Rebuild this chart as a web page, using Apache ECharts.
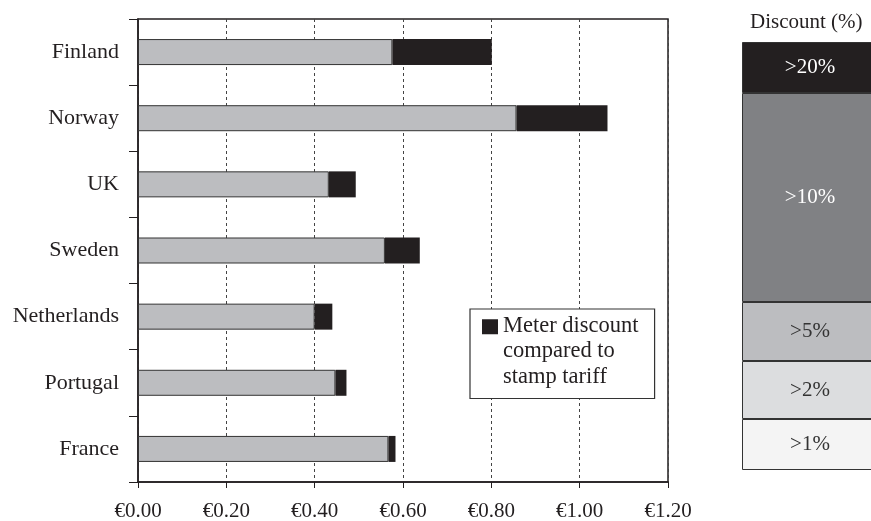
<!DOCTYPE html>
<html>
<head>
<meta charset="utf-8">
<script src="https://cdn.jsdelivr.net/npm/echarts@6/dist/echarts.min.js"></script>
<style>
  html, body { margin: 0; padding: 0; background: #fff; }
  #chart { width: 871px; height: 521px; }
</style>
</head>
<body>
<div id="chart"></div>
<script>
// countries, top to bottom as in the picture
var countries = ['Finland', 'Norway', 'UK', 'Sweden', 'Netherlands', 'Portugal', 'France'];
// meter tariff (gray) and the discount on top of it (black), in euro
var meterTariff = [0.576, 0.857, 0.432, 0.559, 0.400, 0.447, 0.567];
var meterDiscount = [0.225, 0.206, 0.061, 0.079, 0.040, 0.025, 0.016];
var xTicks = [0, 0.2, 0.4, 0.6, 0.8, 1.0, 1.2];

// discount scale on the right, bottom to top
var discountBands = ['>1%', '>2%', '>5%', '>10%', '>20%'];
var discountSizes = [51, 58, 59, 209, 51];
var discountColors = ['#f4f4f4', '#dcdddf', '#bcbdc0', '#808184', '#231f20'];
var discountText = ['#333', '#333', '#333', '#fff', '#fff'];

var font = 'Liberation Serif';
var ink = '#231f20';
var legendName = 'Meter discount\ncompared to\nstamp tariff';

var chart = echarts.init(document.getElementById('chart'));

var bandSeries = discountBands.map(function (b, i) {
    return {
        type: 'bar',
        name: b,
        stack: 'band',
        xAxisIndex: 1,
        yAxisIndex: 1,
        barWidth: '100%',
        data: [discountSizes[i]],
        itemStyle: { color: discountColors[i], borderColor: '#333', borderWidth: 1 },
        label: {
            show: true,
            position: 'inside',
            formatter: b,
            color: discountText[i],
            fontFamily: font,
            fontSize: 21
        },
        silent: true
    };
});

chart.setOption({
    animation: false,
    textStyle: { fontFamily: font },
    title: {
        text: 'Discount (%)',
        left: 750,
        top: 12,
        padding: 0,
        textStyle: { fontFamily: font, fontSize: 21, fontWeight: 'normal', color: ink }
    },
    legend: {
        data: [legendName],
        left: 470,
        top: 309,
        padding: [4, 16, 9, 12],
        borderColor: '#333',
        borderWidth: 1.2,
        backgroundColor: '#fff',
        itemWidth: 16,
        itemHeight: 64,
        itemGap: 8,
        icon: 'path://M0,0L16,0L16,15L0,15Z M0,64L0.1,64',
        textStyle: { fontFamily: font, fontSize: 22.5, lineHeight: 25.5, color: ink },
        selectedMode: false
    },
    grid: [
        { left: 138, right: 203, top: 19, bottom: 39, show: true, borderColor: ink, borderWidth: 1.5, outerBoundsMode: 'none' },
        { left: 742, width: 136, top: 42, bottom: 51, outerBoundsMode: 'none' }
    ],
    xAxis: [
        {
            type: 'value',
            min: 0,
            max: 1.2,
            interval: 0.2,
            axisLine: { show: true, lineStyle: { color: ink, width: 1.5 } },
            axisTick: { show: true, length: 6, lineStyle: { color: ink } },
            splitLine: { show: true, lineStyle: { color: '#444', type: [3, 3], width: 1 } },
            axisLabel: {
                color: ink,
                fontFamily: font,
                fontSize: 21,
                margin: 19,
                formatter: function (v) {
                    var t = xTicks.filter(function (x) { return Math.abs(x - v) < 1e-9; });
                    return t.length ? '€' + v.toFixed(2) : '';
                }
            }
        },
        {
            type: 'category',
            gridIndex: 1,
            data: ['d'],
            show: false
        }
    ],
    yAxis: [
        {
            type: 'category',
            inverse: true,
            data: countries,
            axisLine: { show: true, lineStyle: { color: ink, width: 1.5 } },
            axisTick: { show: true, length: 9, lineStyle: { color: ink } },
            axisLabel: { color: ink, fontFamily: font, fontSize: 22, margin: 19 }
        },
        {
            type: 'value',
            gridIndex: 1,
            min: 0,
            max: 428,
            show: false
        }
    ],
    series: [
        {
            type: 'bar',
            name: 'Meter tariff',
            stack: 'total',
            barWidth: 26,
            data: meterTariff,
            itemStyle: { color: '#bcbdc0', borderColor: '#333', borderWidth: 1 }
        },
        {
            type: 'bar',
            name: legendName,
            stack: 'total',
            barWidth: 26,
            data: meterDiscount,
            itemStyle: { color: ink, borderWidth: 0 }
        }
    ].concat(bandSeries)
});
</script>
</body>
</html>
